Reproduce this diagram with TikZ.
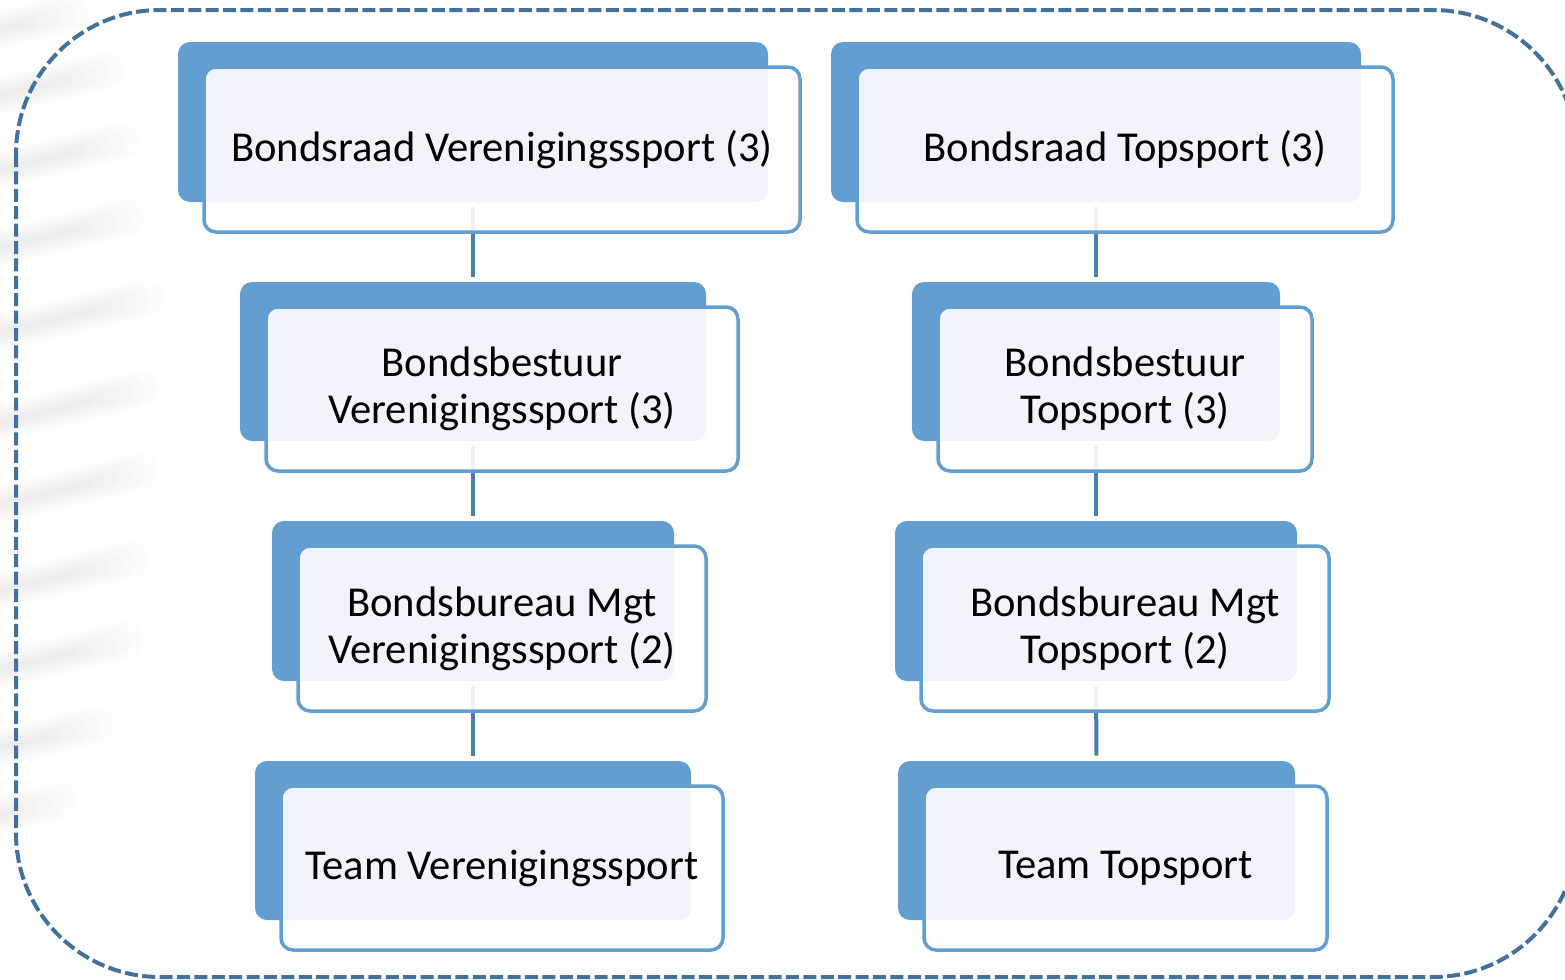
\documentclass[tikz,border=0pt]{standalone}
\usepackage{fontspec}
\setmainfont{Carlito}
\definecolor{boxblue}{HTML}{629ED0}
\definecolor{lineblue}{HTML}{4A7EAF}
\definecolor{dashblue}{HTML}{44719A}
\pgfdeclarelayer{bg}
\pgfsetlayers{bg,main}
\newcommand\orgbox[6]{%
  \node[backbox, minimum width={(#4-#2)*0.5pt}, minimum height={(#5-#3)*0.5pt}]
    (#1b) at ({(#2+#4)/2},{(#3+#5)/2}) {};
  \node[frontbox, minimum width={(#4-#2+6)*0.5pt}, minimum height={(#5-#3+5)*0.5pt}]
    (#1) at ({(#2+#4)/2+29},{(#3+#5)/2+27.5}) {#6};
}
\begin{document}
\begin{tikzpicture}[x=0.5pt,y=-0.5pt,
  backbox/.style={rectangle, rounded corners=6pt, fill=boxblue, inner sep=0pt},
  frontbox/.style={rectangle, rounded corners=6pt, draw=boxblue, line width=1.75pt,
    fill=white, fill opacity=0.9, text opacity=1, draw opacity=1, inner sep=0pt,
    align=center, font=\fontsize{21.3}{23.6}\selectfont},
  link/.style={draw=lineblue, line width=2pt, shorten <=2.5pt, shorten >=2.5pt},
  frame/.style={draw=dashblue, line width=2pt, dash pattern=on 6.5pt off 2.2pt, rounded corners=72pt},
  stripe/.style={line cap=round, draw=black, opacity=0.012}
]
\useasboundingbox (0,0) rectangle (1565,980);

% boxes
\orgbox{L1}{178}{42}{768}{202}{Bondsraad Verenigingssport (3)}
\orgbox{L2}{240}{282}{706}{441}{Bondsbestuur\\Verenigingssport (3)}
\orgbox{L3}{272}{521}{674}{681}{Bondsbureau Mgt\\Verenigingssport (2)}
\orgbox{L4}{255}{761}{691}{920}{Team Verenigingssport}
\orgbox{R1}{831}{42}{1361}{202}{Bondsraad Topsport (3)}
\orgbox{R2}{912}{282}{1280}{441}{Bondsbestuur\\Topsport (3)}
\orgbox{R3}{895}{521}{1297}{681}{Bondsbureau Mgt\\Topsport (2)}
\orgbox{R4}{898}{761}{1295}{920}{Team Topsport}

\begin{pgfonlayer}{bg}
  % faint blurred shadow stripes on the left
  \foreach \y/\l in {12/70, 78/105, 152/120, 230/125, 315/145, 405/140, 487/140, 573/130, 652/125, 730/95, 797/60}{
    \foreach \w/\s in {18/0, 15/10, 12/20, 9/30, 6/40, 3/50}{
      \draw[stripe, line width=\w pt] (-30,{\y+25}) -- ({\l-\s},{\y+25-0.24*(\l-\s+30)});
    }
  }
  % dashed frame
  \begin{scope}
    \clip (0,0) rectangle (1565,980);
    \draw[frame] (16,10) rectangle (1577,977);
  \end{scope}
  % connectors
  \draw[link] (L1b.south) -- (L2b.north);
  \draw[link] (L2b.south) -- (L3b.north);
  \draw[link] (L3b.south) -- (L4b.north);
  \draw[link] (R1b.south) -- (R2b.north);
  \draw[link] (R2b.south) -- (R3b.north);
  \draw[link] (R3b.south) -- (R4b.north);
\end{pgfonlayer}
\end{tikzpicture}
\end{document}
